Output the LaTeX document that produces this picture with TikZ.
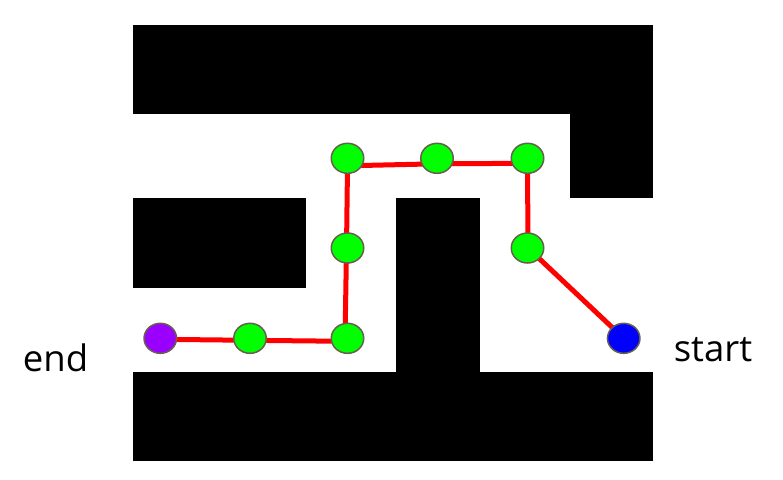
\documentclass[tikz,border=0pt]{standalone}
\usepackage{fontspec}
\setmainfont{Open Sans}
\usetikzlibrary{shapes.geometric}
\definecolor{nodeedge}{RGB}{105,95,80}
\definecolor{purp}{RGB}{153,0,255}
\definecolor{grn}{RGB}{0,255,0}
\definecolor{blu}{RGB}{0,0,255}
\pgfdeclarelayer{bg}
\pgfdeclarelayer{lines}
\pgfsetlayers{bg,lines,main}
\begin{document}
\begin{tikzpicture}[x=1pt,y=-1pt,
  wall/.style={fill=black,draw=none},
  waypoint/.style={ellipse,draw=nodeedge,line width=1.5pt,minimum width=32.5pt,minimum height=30pt,inner sep=0pt,fill=#1},
  route/.style={draw=red,line width=5pt,line join=round},
  lbl/.style={font=\fontsize{36.5}{40}\selectfont,anchor=base,inner sep=0pt}]
\begin{pgfonlayer}{bg}
\fill[white] (0,0) rectangle (783,479);
\fill[wall] (133,25) rectangle (653,114);
\fill[wall] (570,113) rectangle (653,198);
\fill[wall] (133,198) rectangle (306,288);
\fill[wall] (396,198) rectangle (480,373);
\fill[wall] (133,372) rectangle (653,461);
\end{pgfonlayer}
\useasboundingbox (0,0) rectangle (783,479);

\node[waypoint=purp] (n1) at (160.3,338.3) {};
\node[waypoint=grn] (n2) at (250,338.3) {};
\node[waypoint=grn] (n3) at (347.5,338.3) {};
\node[waypoint=grn] (n4) at (347.5,248) {};
\node[waypoint=grn] (n5) at (347.5,158.3) {};
\node[waypoint=grn] (n6) at (437,158.3) {};
\node[waypoint=grn] (n7) at (527.5,158.3) {};
\node[waypoint=grn] (n8) at (527.5,248) {};
\node[waypoint=blu] (n9) at (623.7,338.3) {};

\begin{pgfonlayer}{lines}
\draw[route] (n9.center) -- ([xshift=0.5pt]n8.center) -- ([yshift=-5pt]n7.center)
  -- ([yshift=-5.5pt]n6.center) -- ([yshift=-7.5pt]n5.center) -- ([xshift=-1pt]n4.center)
  -- ([xshift=-2.5pt,yshift=-3pt]n3.center) -- ([yshift=-2pt]n2.center) -- ([yshift=-1pt]n1.center);
\end{pgfonlayer}

\node[lbl] (endlbl) at (55.5,371.7) {end};
\node[lbl] (startlbl) at (713,361) {start};
\end{tikzpicture}
\end{document}
